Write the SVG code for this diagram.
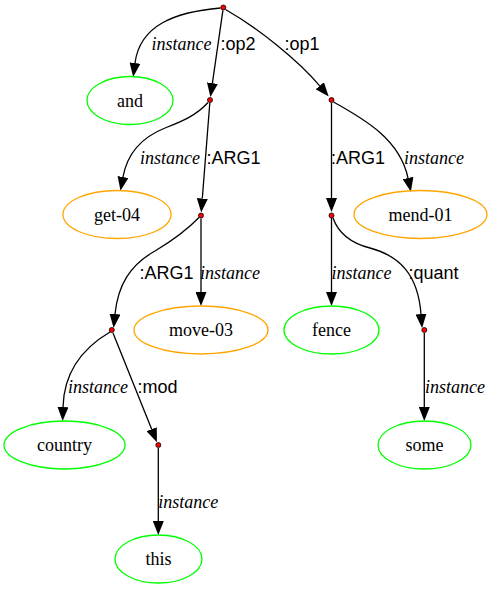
<svg xmlns="http://www.w3.org/2000/svg" width="493" height="589" viewBox="0 0 493 589">
  <style>
    .bg { fill: #ffffff; }
    .edge { fill: none; stroke: #000000; stroke-width: 1.3; }
    .pt { fill: #ff0000; stroke: #000000; stroke-width: 0.8; }
    .con { fill: none; stroke: #00ff00; stroke-width: 1.3; }
    .ev { fill: none; stroke: #ffa500; stroke-width: 1.3; }
    .nl { font-family: "Liberation Serif", "Times New Roman", serif; font-size: 18px; fill: #000000; text-anchor: middle; }
    .il { font-family: "Liberation Serif", "Times New Roman", serif; font-style: italic; font-size: 18px; fill: #000000; }
    .rl { font-family: "Liberation Sans", Arial, sans-serif; font-size: 18px; fill: #000000; }
  </style>
  <defs>
    <marker id="arrow" markerUnits="userSpaceOnUse" markerWidth="14" markerHeight="11" viewBox="0 0 14 11" refX="0" refY="5.5" orient="auto">
      <path d="M0,0 L14,5.5 L0,11 z" fill="#000000"/>
    </marker>
  </defs>
  <rect class="bg" x="0" y="0" width="493" height="589"/>

  <g id="edges">
    <!-- root -->
    <path class="edge" marker-end="url(#arrow)" d="M220.5,8 C175,12 140,25 135,63"/>
    <path class="edge" marker-end="url(#arrow)" d="M222.9,10.3 L212.4,83.1"/>
    <path class="edge" marker-end="url(#arrow)" d="M225.5,9.5 C258,28 298,60 319.7,85.8"/>
    <!-- op2 -->
    <path class="edge" marker-end="url(#arrow)" d="M208,102.5 C196,116 180,122 165,128 C140,138 127,155 123,177"/>
    <path class="edge" marker-end="url(#arrow)" d="M209.8,103 L202.3,198.5"/>
    <!-- op1 -->
    <path class="edge" marker-end="url(#arrow)" d="M331.5,103 L331.5,198"/>
    <path class="edge" marker-end="url(#arrow)" d="M333.5,102 C366,120 400,140 408,178"/>
    <!-- move ARG1 -->
    <path class="edge" marker-end="url(#arrow)" d="M199,217.5 C185,232 170,242 155,251 C130,265 118,285 115,314"/>
    <path class="edge" marker-end="url(#arrow)" d="M201,218.5 L201,292"/>
    <!-- mend ARG1 -->
    <path class="edge" marker-end="url(#arrow)" d="M331.5,218 L331.5,292"/>
    <path class="edge" marker-end="url(#arrow)" d="M333,218 C338,232 350,243 370,248 C400,256 418,275 421,314"/>
    <!-- country -->
    <path class="edge" marker-end="url(#arrow)" d="M110,332 C88,345 64,368 63,407"/>
    <path class="edge" marker-end="url(#arrow)" d="M113,333 L151.7,429.2"/>
    <!-- leaves -->
    <path class="edge" marker-end="url(#arrow)" d="M424.3,333 L424.3,407"/>
    <path class="edge" marker-end="url(#arrow)" d="M158.3,448 L158.3,521"/>
  </g>

  <g id="edge-labels">
    <text class="il" x="151.5" y="49.5">instance</text>
    <text class="rl" x="220.5" y="49.5">:op2</text>
    <text class="rl" x="284.5" y="49.5">:op1</text>
    <text class="il" x="140" y="163.5">instance</text>
    <text class="rl" x="206.5" y="163.5">:ARG1</text>
    <text class="rl" x="331" y="163.5">:ARG1</text>
    <text class="il" x="404" y="163.5">instance</text>
    <text class="rl" x="139.5" y="278.5">:ARG1</text>
    <text class="il" x="200" y="278.5">instance</text>
    <text class="il" x="331.5" y="278.5">instance</text>
    <text class="rl" x="408.5" y="278.5">:quant</text>
    <text class="il" x="68" y="393">instance</text>
    <text class="rl" x="137.5" y="393">:mod</text>
    <text class="il" x="425" y="393">instance</text>
    <text class="il" x="158.3" y="507.5">instance</text>
  </g>

  <g id="root"><circle class="pt" cx="223.3" cy="7.5" r="2.5"/></g>
  <g id="op2"><circle class="pt" cx="210" cy="100" r="2.5"/></g>
  <g id="op1"><circle class="pt" cx="331.5" cy="100" r="2.5"/></g>
  <g id="move-arg1"><circle class="pt" cx="201" cy="215.5" r="2.5"/></g>
  <g id="mend-arg1"><circle class="pt" cx="331.5" cy="215.5" r="2.5"/></g>
  <g id="country-pt"><circle class="pt" cx="111.8" cy="330" r="2.5"/></g>
  <g id="quant"><circle class="pt" cx="424.3" cy="330" r="2.5"/></g>
  <g id="mod"><circle class="pt" cx="158.3" cy="445" r="2.5"/></g>

  <g id="and"><ellipse class="con" cx="130" cy="100.5" rx="43" ry="24"/><text class="nl" x="130" y="106.5">and</text></g>
  <g id="get-04"><ellipse class="ev" cx="117" cy="214.5" rx="54" ry="24"/><text class="nl" x="117" y="220.5">get-04</text></g>
  <g id="mend-01"><ellipse class="ev" cx="420.5" cy="214.5" rx="66.5" ry="24"/><text class="nl" x="420.5" y="220.5">mend-01</text></g>
  <g id="move-03"><ellipse class="ev" cx="201" cy="330" rx="67" ry="24"/><text class="nl" x="201" y="336">move-03</text></g>
  <g id="fence"><ellipse class="con" cx="331.5" cy="330" rx="47.5" ry="24"/><text class="nl" x="331.5" y="336">fence</text></g>
  <g id="country"><ellipse class="con" cx="64.5" cy="445" rx="60.5" ry="24"/><text class="nl" x="64.5" y="451">country</text></g>
  <g id="some"><ellipse class="con" cx="424.5" cy="445" rx="46.5" ry="24"/><text class="nl" x="424.5" y="451">some</text></g>
  <g id="this"><ellipse class="con" cx="158.5" cy="559" rx="43.5" ry="24"/><text class="nl" x="158.5" y="565">this</text></g>
</svg>
